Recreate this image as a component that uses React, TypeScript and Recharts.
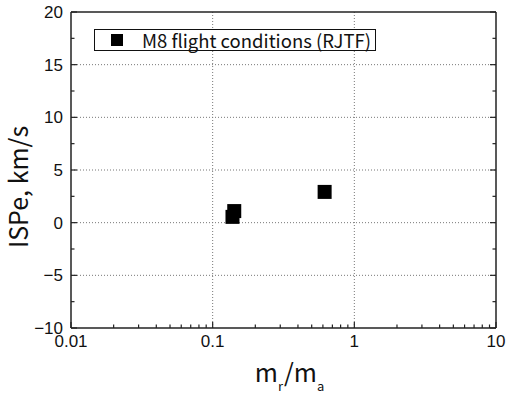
import { ScatterChart, Scatter, XAxis, YAxis, ReferenceLine, Legend } from 'recharts'

// M8 flight conditions (RJTF)
const massRatio = [0.142, 0.138, 0.617]
const ispe = [1.1, 0.55, 2.92]

const xTicks = [
  0.01, 0.02, 0.03, 0.04, 0.05, 0.06, 0.07, 0.08, 0.09,
  0.1, 0.2, 0.3, 0.4, 0.5, 0.6, 0.7, 0.8, 0.9,
  1, 2, 3, 4, 5, 6, 7, 8, 9, 10,
]
const xLabels = [0.01, 0.1, 1, 10]
const yTicks = [-10, -7.5, -5, -2.5, 0, 2.5, 5, 7.5, 10, 12.5, 15, 17.5, 20]
const yLabels = [-10, -5, 0, 5, 10, 15, 20]
const gridX = [0.1, 1]
const gridY = [-5, 0, 5, 10, 15]

const points = massRatio.map((x, i) => ({ x, y: ispe[i] }))

const AXIS = '#222'
const NUM_FONT = 'Liberation Sans, Arial, sans-serif'
const JP_FONT = 'Noto Sans CJK JP, Noto Sans, sans-serif'

const fmtY = (v: number) => (v < 0 ? `\u2212${Math.abs(v)}` : `${v}`)

function BottomTick(props: any) {
  const { x, y, payload } = props
  const major = xLabels.includes(payload.value)
  return (
    <g>
      <line x1={x} y1={y} x2={x} y2={y - (major ? 6 : 3.5)} stroke={AXIS} strokeWidth={1.2} />
      {major && (
        <text x={x} y={y + 19} textAnchor="middle" fontSize={17} fill="#111" fontFamily={NUM_FONT}>
          {payload.value}
        </text>
      )}
    </g>
  )
}

function TopTick(props: any) {
  const { x, y, payload } = props
  const major = xLabels.includes(payload.value)
  return <line x1={x} y1={y} x2={x} y2={y + (major ? 6 : 3.5)} stroke={AXIS} strokeWidth={1.2} />
}

function LeftTick(props: any) {
  const { x, y, payload } = props
  const major = yLabels.includes(payload.value)
  return (
    <g>
      <line x1={x} y1={y} x2={x + (major ? 6 : 3.5)} y2={y} stroke={AXIS} strokeWidth={1.2} />
      {major && (
        <text x={x - 8} y={y + 6} textAnchor="end" fontSize={17} fill="#111" fontFamily={NUM_FONT}>
          {fmtY(payload.value)}
        </text>
      )}
    </g>
  )
}

function RightTick(props: any) {
  const { x, y, payload } = props
  const major = yLabels.includes(payload.value)
  return <line x1={x} y1={y} x2={x - (major ? 6 : 3.5)} y2={y} stroke={AXIS} strokeWidth={1.2} />
}

function SquareMark(props: any) {
  const { cx, cy } = props
  return <rect x={cx - 7} y={cy - 7} width={14} height={14} fill="#000" />
}

function XTitle(props: any) {
  const vb = props.viewBox || { x: 0, y: 0, width: 0, height: 0 }
  const cx = vb.x + vb.width / 2 + 6
  const by = vb.y + 54
  return (
    <text x={cx} y={by} textAnchor="middle" fontSize={25} fill="#111" fontFamily={JP_FONT}>
      m
      <tspan fontSize={13} dy={9}>r</tspan>
      <tspan dy={-9} dx={1}>/</tspan>
      <tspan>m</tspan>
      <tspan fontSize={13} dy={9}>a</tspan>
    </text>
  )
}

function YTitle(props: any) {
  const vb = props.viewBox || { x: 0, y: 0, width: 0, height: 0 }
  const cx = vb.x + 19
  const cy = vb.y + vb.height / 2 + 17
  return (
    <text
      x={cx}
      y={cy}
      textAnchor="middle"
      dy="0.35em"
      transform={`rotate(-90, ${cx}, ${cy})`}
      fontSize={25}
      fill="#111"
      fontFamily={JP_FONT}
    >
      ISPe, km/s
    </text>
  )
}

function LegendBox() {
  return (
    <div
      style={{
        display: 'inline-flex',
        height: 20,
        border: '1px solid #111',
        background: '#fff',
        alignItems: 'center',
        fontFamily: JP_FONT,
        fontSize: 18.5,
        color: '#111',
        lineHeight: '20px',
        paddingRight: 4,
        boxSizing: 'content-box',
      }}
    >
      <span
        style={{
          display: 'inline-block',
          flex: '0 0 12px',
          width: 12,
          height: 12,
          background: '#000',
          marginLeft: 16,
          marginRight: 19,
        }}
      />
      <span style={{ whiteSpace: 'nowrap', flex: '0 0 auto' }}>M8 flight conditions (RJTF)</span>
    </div>
  )
}

export default function App() {
  return (
    <div style={{ position: 'absolute', left: 0, top: 0, width: 506, height: 396, background: '#fff' }}>
      <ScatterChart width={506} height={396} margin={{ top: 0, right: 0, bottom: 0, left: 0 }}>
        <XAxis
          xAxisId="bottom"
          dataKey="x"
          type="number"
          scale="log"
          domain={[0.01, 10]}
          allowDataOverflow
          ticks={xTicks}
          interval={0}
          height={68}
          tickSize={0}
          tickMargin={0}
          tickLine={false}
          tick={<BottomTick />}
          axisLine={{ stroke: AXIS, strokeWidth: 1.5 }}
          label={<XTitle />}
        />
        <XAxis
          xAxisId="top"
          orientation="top"
          type="number"
          scale="log"
          domain={[0.01, 10]}
          allowDataOverflow
          ticks={xTicks}
          interval={0}
          height={12}
          tickSize={0}
          tickMargin={0}
          tickLine={false}
          tick={<TopTick />}
          axisLine={{ stroke: AXIS, strokeWidth: 1.5 }}
        />
        <YAxis
          yAxisId="left"
          dataKey="y"
          type="number"
          domain={[-10, 20]}
          allowDataOverflow
          ticks={yTicks}
          interval={0}
          width={71}
          tickSize={0}
          tickMargin={0}
          tickLine={false}
          tick={<LeftTick />}
          axisLine={{ stroke: AXIS, strokeWidth: 1.5 }}
          label={<YTitle />}
        />
        <YAxis
          yAxisId="right"
          orientation="right"
          type="number"
          domain={[-10, 20]}
          allowDataOverflow
          ticks={yTicks}
          interval={0}
          width={10}
          tickSize={0}
          tickMargin={0}
          tickLine={false}
          tick={<RightTick />}
          axisLine={{ stroke: AXIS, strokeWidth: 1.5 }}
        />
        {gridX.map((v) => (
          <ReferenceLine key={`gx${v}`} x={v} xAxisId="bottom" yAxisId="left" stroke="#777" strokeDasharray="1 2" />
        ))}
        {gridY.map((v) => (
          <ReferenceLine key={`gy${v}`} y={v} xAxisId="bottom" yAxisId="left" stroke="#777" strokeDasharray="1 2" />
        ))}
        <Legend
          layout="horizontal"
          verticalAlign="middle"
          align="center"
          content={<LegendBox />}
          wrapperStyle={{ position: 'absolute', left: 94, top: 29, width: 'auto', height: 'auto' }}
        />
        <Scatter
          name="M8 flight conditions (RJTF)"
          data={points}
          xAxisId="bottom"
          yAxisId="left"
          fill="#000"
          shape={<SquareMark />}
          isAnimationActive={false}
        />
      </ScatterChart>
    </div>
  )
}
